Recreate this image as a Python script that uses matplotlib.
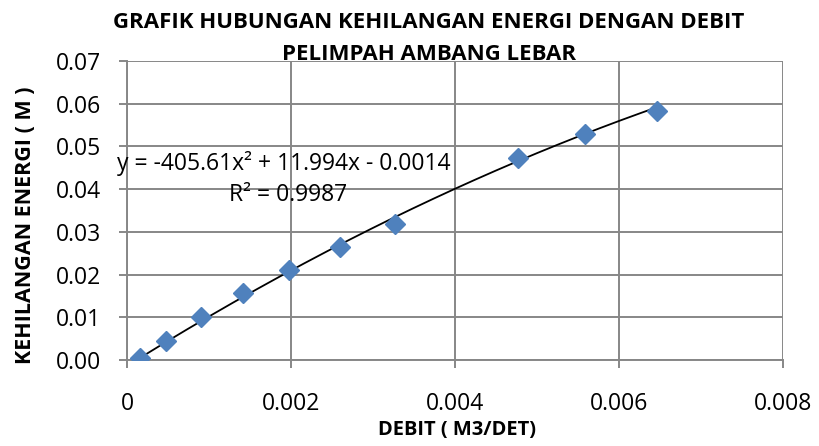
import numpy as np
import matplotlib
matplotlib.use("Agg")
import matplotlib.pyplot as plt

debit = [0.00016, 0.00048, 0.00090, 0.00141, 0.00198, 0.00260, 0.00327, 0.00477, 0.00559, 0.00646]
energi = [0.0004, 0.0045, 0.0101, 0.0156, 0.0210, 0.0265, 0.0319, 0.0474, 0.0530, 0.0584]
coef = [-405.61, 11.994, -0.0014]
xticks = [0, 0.002, 0.004, 0.006, 0.008]
xticklabels = ["0", "0.002", "0.004", "0.006", "0.008"]
yticks = [0.0, 0.01, 0.02, 0.03, 0.04, 0.05, 0.06, 0.07]
yticklabels = ["0.00", "0.01", "0.02", "0.03", "0.04", "0.05", "0.06", "0.07"]
title1 = "GRAFIK HUBUNGAN KEHILANGAN ENERGI DENGAN DEBIT"
title2 = "PELIMPAH AMBANG LEBAR"
eq_text = "y = -405.61x² + 11.994x - 0.0014"
r2_text = "R² = 0.9987"

plt.rcParams['font.family'] = ['Open Sans', 'DejaVu Sans']

W, H = 820, 446
fig = plt.figure(figsize=(8.2, 4.46), dpi=100)
ax = fig.add_axes([127/W, 1-360/H, (783-127)/W, (360-61)/H])

xs = np.linspace(min(debit), max(debit), 200)
ys = np.polyval(coef, xs)
ax.plot(xs, ys, color='black', lw=1.3, zorder=3)
ax.plot(debit, energi, linestyle='none', marker='D', markersize=10,
        color='#4F81BD', zorder=4)

ax.set_xlim(0, 0.008)
ax.set_ylim(0, 0.07)
ax.set_xticks(xticks)
ax.set_xticklabels(xticklabels, fontsize=16.5)
ax.set_yticks(yticks)
ax.set_yticklabels(yticklabels, fontsize=16.5)
ax.grid(True, color='#878787', lw=1.4)
ax.set_axisbelow(True)
for s in ['top', 'right']:
    ax.spines[s].set_visible(False)
for s in ['left', 'bottom']:
    ax.spines[s].set_color('#878787')
    ax.spines[s].set_linewidth(1.4)
ax.tick_params(axis='both', length=5.8, color='#878787', width=1.4)
ax.tick_params(axis='y', pad=13)
ax.tick_params(axis='x', pad=17)

ax.set_xlabel("DEBIT ( M3/DET)", fontsize=14.5, fontweight='bold', va='center')
ax.xaxis.set_label_coords(457.5/W, 1-430/H, transform=fig.transFigure)
ax.set_ylabel("KEHILANGAN ENERGI ( M )", fontsize=15.5, fontweight='bold', va='center')
ax.yaxis.set_label_coords(26/W, 1-225.5/H, transform=fig.transFigure)

fig.text(429/W, 1-22/H, title1, ha='center', va='center', fontsize=16, fontweight='bold')
fig.text(429/W, 1-55/H, title2, ha='center', va='center', fontsize=16, fontweight='bold')

fig.text(117/W, 1-163/H, eq_text, ha='left', va='center', fontsize=16.5)
fig.text(288/W, 1-195/H, r2_text, ha='center', va='center', fontsize=16.5)

fig.savefig("out.png", dpi=100)
